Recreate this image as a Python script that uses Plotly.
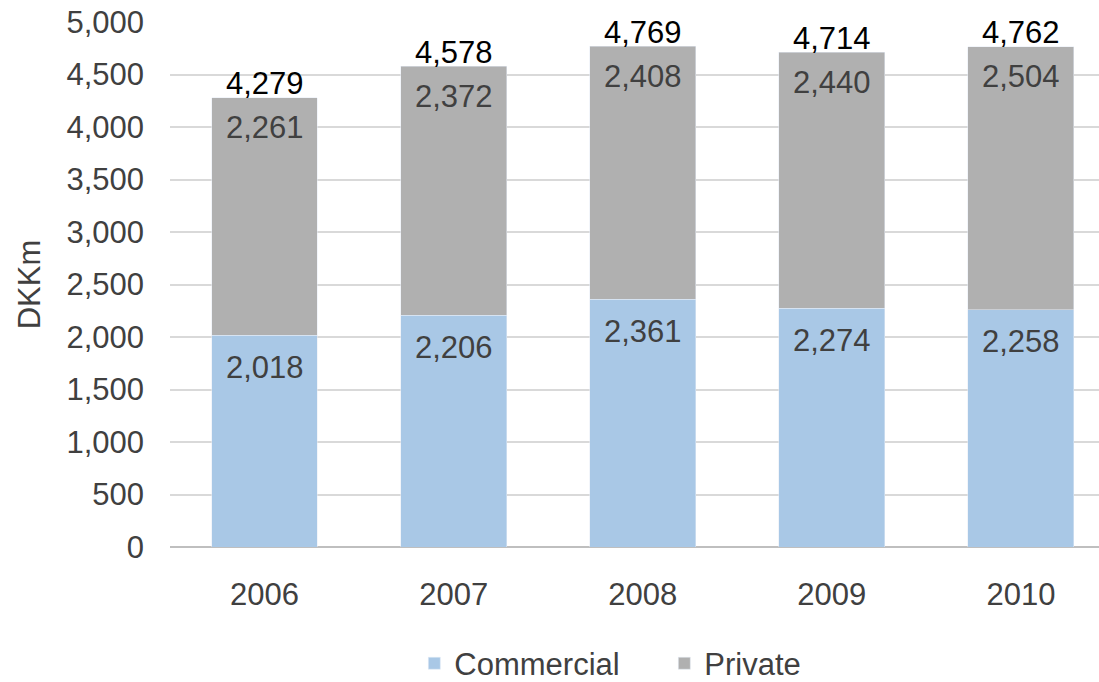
import plotly.graph_objects as go

years = ["2006", "2007", "2008", "2009", "2010"]
commercial = [2018, 2206, 2361, 2274, 2258]
private = [2261, 2372, 2408, 2440, 2504]
totals = [4279, 4578, 4769, 4714, 4762]

FONT = "Liberation Sans, Arial, sans-serif"
FS = 31
C_COM = "#A9C8E6"
C_PRI = "#B0B0B0"

fig = go.Figure()
fig.add_trace(go.Bar(x=years, y=commercial, name="Commercial", marker_color=C_COM, width=0.56))
fig.add_trace(go.Bar(x=years, y=private, name="Private", marker_color=C_PRI, width=0.56))

annotations = []
for i, yr in enumerate(years):
    annotations.append(dict(x=i, y=commercial[i], xref="x", yref="y", text=f"{commercial[i]:,}", showarrow=False,
                            yanchor="middle", yshift=-32, font=dict(size=FS, color="#404040", family=FONT)))
    annotations.append(dict(x=i, y=commercial[i] + private[i], xref="x", yref="y", text=f"{private[i]:,}", showarrow=False,
                            yanchor="middle", yshift=-30, font=dict(size=FS, color="#404040", family=FONT)))
    annotations.append(dict(x=i, y=totals[i], xref="x", yref="y", text=f"{totals[i]:,}", showarrow=False,
                            yanchor="middle", yshift=14, font=dict(size=FS, color="#000000", family=FONT)))

fig.update_layout(
    width=1099, height=682,
    margin=dict(l=170, r=0, t=22, b=135),
    barmode="stack",
    plot_bgcolor="white", paper_bgcolor="white",
    font=dict(family=FONT, size=FS, color="#404040"),
    annotations=annotations,
    legend=dict(orientation="h", traceorder="normal", xref="container", yref="container", x=0.377, y=0.027,
                xanchor="left", yanchor="middle", font=dict(size=FS, color="#404040"),
                entrywidth=205),
    xaxis=dict(type="category", range=[-0.5, 4.413], showgrid=False, showline=False, ticks="",
               tickfont=dict(size=FS, color="#404040"), ticklabelstandoff=26),
    yaxis=dict(range=[0, 5000], dtick=500, tickformat=",", showgrid=True, gridcolor="#D9D9D9",
               gridwidth=1.5, zeroline=True, zerolinecolor="#BFBFBF", zerolinewidth=2,
               tickfont=dict(size=FS, color="#404040"), ticklabelstandoff=25,
               title=dict(text="DKKm", font=dict(size=FS, color="#404040"), standoff=16)),
)

fig.write_html("out.html", config={"displayModeBar": False})
with open("out.html", "r", encoding="utf-8") as f:
    html = f.read()
html = html.replace("<body>", "<body style=\"margin:0;padding:0;overflow:hidden\">", 1)
with open("out.html", "w", encoding="utf-8") as f:
    f.write(html)
